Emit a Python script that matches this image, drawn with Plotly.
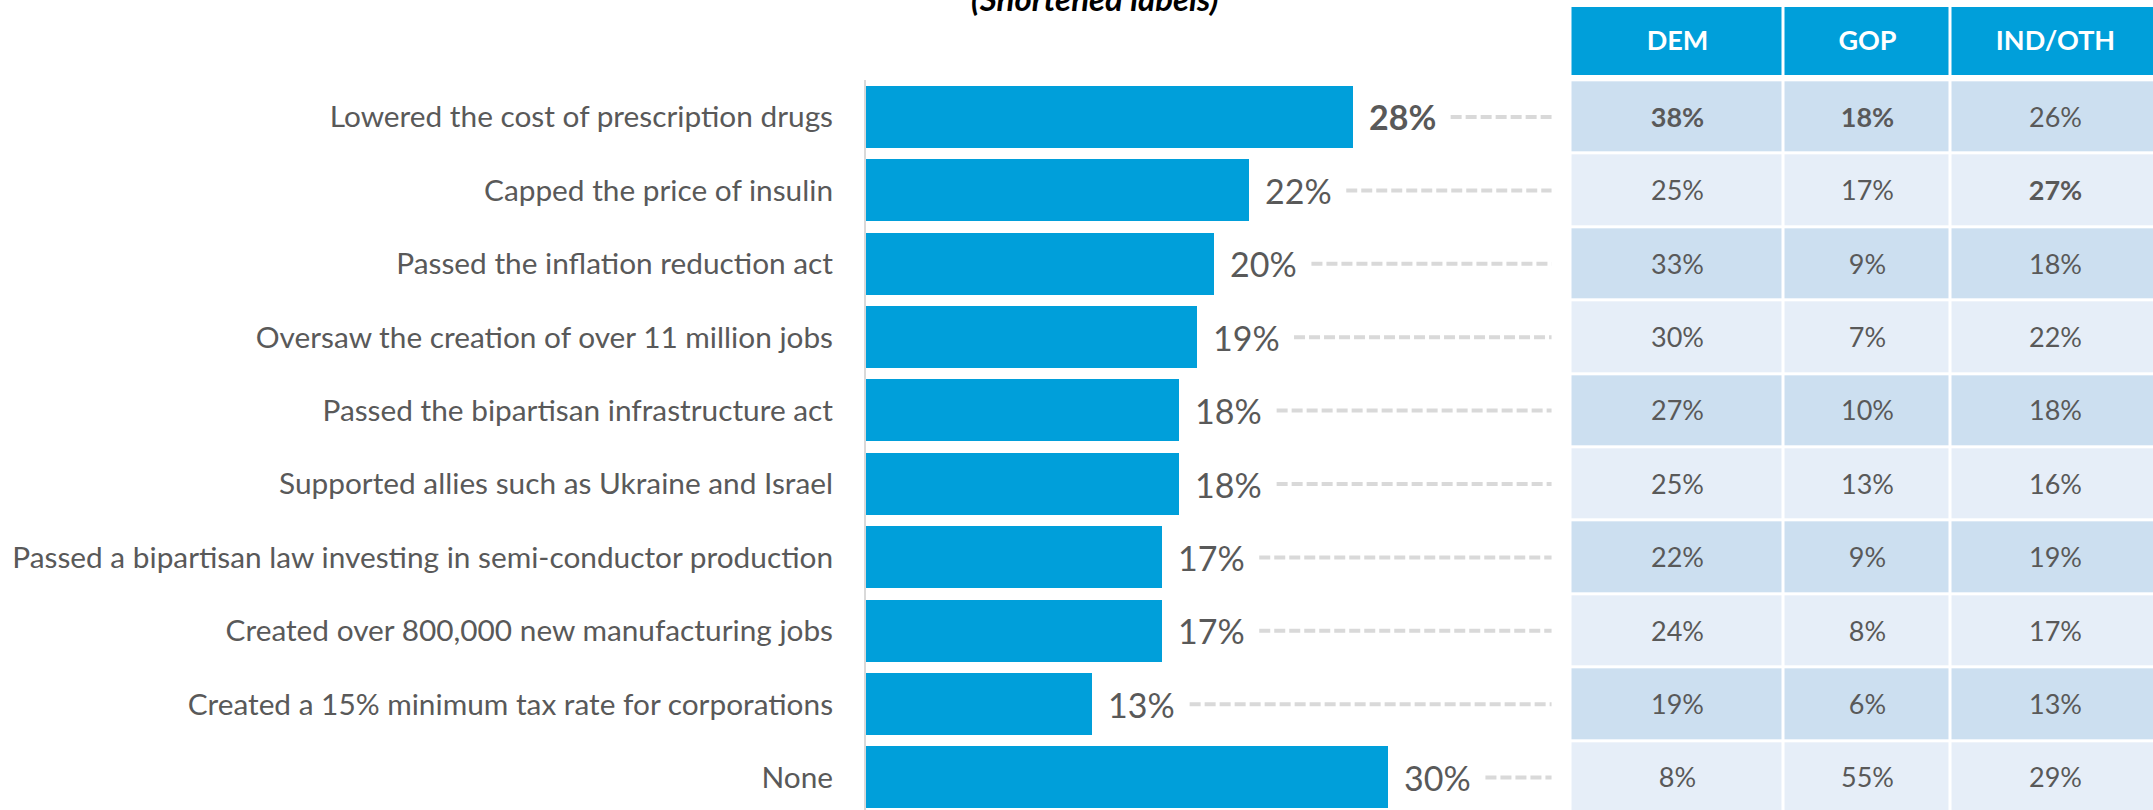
import plotly.graph_objects as go

# ---------------- data ----------------
categories = [
    "Lowered the cost of prescription drugs",
    "Capped the price of insulin",
    "Passed the inflation reduction act",
    "Oversaw the creation of over 11 million jobs",
    "Passed the bipartisan infrastructure act",
    "Supported allies such as Ukraine and Israel",
    "Passed a bipartisan law investing in semi-conductor production",
    "Created over 800,000 new manufacturing jobs",
    "Created a 15% minimum tax rate for corporations",
    "None",
]
total = [28, 22, 20, 19, 18, 18, 17, 17, 13, 30]
party_columns = ["DEM", "GOP", "IND/OTH"]
dem = [38, 25, 33, 30, 27, 25, 22, 24, 19, 8]
gop = [18, 17, 9, 7, 10, 13, 9, 8, 6, 55]
ind = [26, 27, 18, 22, 18, 16, 19, 17, 13, 29]
# highlighted (bold) cells: (series, row index)
highlighted = [("total", 0), ("DEM", 0), ("GOP", 0), ("IND/OTH", 1)]
title_text = "(Shortened labels)"

# ---------------- layout constants ----------------
W, H = 2153, 810
FONT = "Lato"
TEXT_COLOR = "#595959"
BLUE = "#009FDA"
ROW_DARK = "#CCDFF0"
ROW_LIGHT = "#E6EEF8"
LEADER_COLOR = "#D9D9D9"

ROW_TOP_PX = 80.3
PITCH_PX = 73.4
AXIS_X0_PX = 866
PX_PER_PCT = 17.4
X_MAX = 40
TABLE_X0_PX = 1570.5
COL_WIDTHS_PX = [213, 167, 210]
HEADER_TOP_PX, HEADER_BOT_PX = 7, 75
LEADER_GAP = 5.6
LEADER_END = 39.4

n = len(categories)
y_bottom = -0.5 + (H - ROW_TOP_PX) / PITCH_PX

fig = go.Figure()

# bars
fig.add_trace(go.Bar(
    x=total, y=categories, orientation="h",
    marker=dict(color=BLUE, line=dict(width=0)),
    width=62 / PITCH_PX, hoverinfo="skip", xaxis="x", yaxis="y",
))

# dashed leader lines
lx, ly = [], []
for c, v in zip(categories, total):
    lx += [v + LEADER_GAP, LEADER_END, None]
    ly += [c, c, None]
fig.add_trace(go.Scatter(
    x=lx, y=ly, mode="lines", xaxis="x", yaxis="y",
    line=dict(color=LEADER_COLOR, width=4, dash="11px,4px"),
    hoverinfo="skip", showlegend=False,
))

# table body
series = {"DEM": dem, "GOP": gop, "IND/OTH": ind}
edges = [0]
for w in COL_WIDTHS_PX:
    edges.append(edges[-1] + w)
z = [[i % 2 for _ in party_columns] for i in range(n)]
txt = []
for i in range(n):
    row = []
    for col in party_columns:
        s = f"{series[col][i]}%"
        if (col, i) in highlighted:
            s = f"<b>{s}</b>"
        row.append(s)
    txt.append(row)
fig.add_trace(go.Heatmap(
    z=z, x=edges, y=categories, text=txt, texttemplate="%{text}",
    textfont=dict(family=FONT, size=27, color=TEXT_COLOR),
    colorscale=[[0, ROW_DARK], [1, ROW_LIGHT]], zmin=0, zmax=1,
    showscale=False, xgap=3, ygap=3, hoverinfo="skip",
    xaxis="x2", yaxis="y",
))

# table header
fig.add_trace(go.Heatmap(
    z=[[0 for _ in party_columns]], x=edges, y=["header"],
    text=[[f"<b>{c}</b>" for c in party_columns]], texttemplate="%{text}",
    textfont=dict(family=FONT, size=27, color="white"),
    colorscale=[[0, BLUE], [1, BLUE]], zmin=0, zmax=1,
    showscale=False, xgap=3, ygap=0, hoverinfo="skip",
    xaxis="x2", yaxis="y3",
))

# value labels
annotations = []
for i, (c, v) in enumerate(zip(categories, total)):
    s = f"{v}%"
    if ("total", i) in highlighted:
        s = f"<b>{s}</b>"
    annotations.append(dict(
        x=v, y=c, xref="x", yref="y", text=s, showarrow=False,
        xanchor="left", yanchor="middle", xshift=14,
        font=dict(family=FONT, size=34, color=TEXT_COLOR),
    ))
annotations.append(dict(
    x=1094 / W, y=1 - 20 / H, xref="paper", yref="paper",
    text=f"<b><i>{title_text}</i></b>", showarrow=False,
    xanchor="center", yanchor="bottom",
    font=dict(family=FONT, size=33, color="#000000"),
))

fig.update_layout(
    width=W, height=H,
    margin=dict(l=0, r=0, t=0, b=0),
    paper_bgcolor="white", plot_bgcolor="white",
    showlegend=False, bargap=0,
    annotations=annotations,
    font=dict(family=FONT, color=TEXT_COLOR),
    xaxis=dict(domain=[AXIS_X0_PX / W, (AXIS_X0_PX + X_MAX * PX_PER_PCT) / W],
               range=[0, X_MAX], visible=False, fixedrange=True),
    yaxis=dict(domain=[0, 1 - ROW_TOP_PX / H], range=[y_bottom, -0.5],
               categoryorder="array", categoryarray=categories,
               showline=True, linecolor="#D9D9D9", linewidth=2,
               ticks="outside", ticklen=25, tickcolor="rgba(0,0,0,0)",
               tickfont=dict(family=FONT, size=29.8, color=TEXT_COLOR),
               showgrid=False, zeroline=False, automargin=False,
               anchor="x", fixedrange=True),
    xaxis2=dict(domain=[TABLE_X0_PX / W, 1], range=[0, W - TABLE_X0_PX],
                visible=False, anchor="y", fixedrange=True),
    yaxis3=dict(domain=[1 - HEADER_BOT_PX / H, 1 - HEADER_TOP_PX / H],
                range=[-0.5, 0.5], visible=False, anchor="x2", fixedrange=True),
)

fig.write_html(
    "out.html",
    config={"displayModeBar": False},
    post_script="document.body.style.margin='0';",
)
